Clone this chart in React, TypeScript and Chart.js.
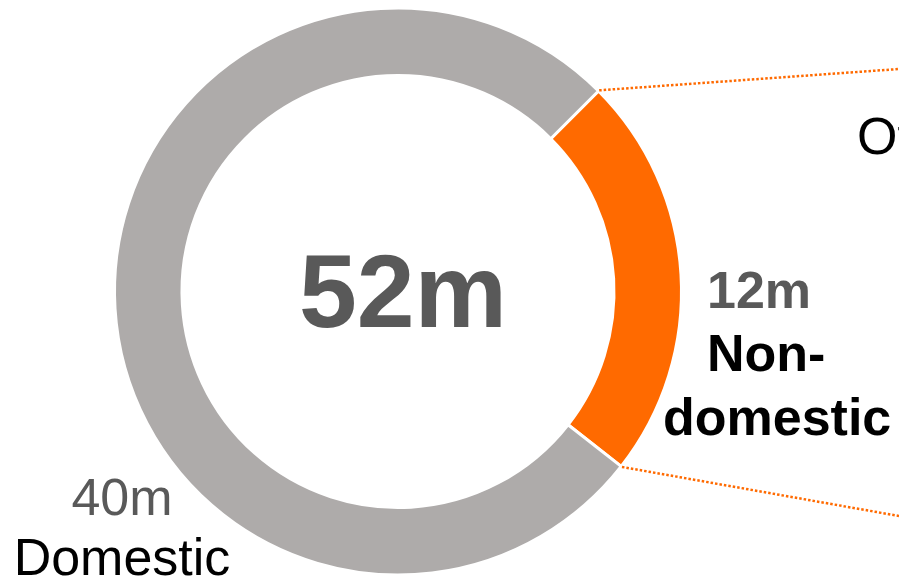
import React, { useEffect, useRef } from "react";
import { Chart, registerables } from "chart.js";

Chart.register(...registerables);

const categories = ["Non-domestic", "Domestic"];
const values = [12, 40];
const colors = ["#FF6A00", "#AEABAA"];
const unit = "m";
const nonDomesticLines = ["Non-", "domestic"];
const domesticLines = ["Domestic"];
const calloutTitle = "Other";

const FONT = "'Liberation Sans', Arial, Helvetica, sans-serif";

const labelsPlugin = {
  id: "labelsPlugin",
  afterDraw(chart: any) {
    const ctx = chart.ctx as CanvasRenderingContext2D;
    const meta = chart.getDatasetMeta(0);
    const arc = meta.data[0] as any;
    const { x, y, startAngle, endAngle, outerRadius } = arc.getProps(
      ["x", "y", "startAngle", "endAngle", "outerRadius"],
      true
    );
    const W = chart.width;
    ctx.save();

    // dotted leader lines from the orange segment to the callout on the right
    ctx.strokeStyle = colors[0];
    ctx.lineWidth = 2.5;
    ctx.setLineDash([2.5, 2]);
    const r = outerRadius + 1;
    const p1 = { x: x + r * Math.cos(startAngle), y: y + r * Math.sin(startAngle) };
    const p2 = { x: x + r * Math.cos(endAngle), y: y + r * Math.sin(endAngle) };
    ctx.beginPath();
    ctx.moveTo(p1.x, p1.y);
    ctx.lineTo(W, 69);
    ctx.stroke();
    ctx.beginPath();
    ctx.moveTo(p2.x, p2.y);
    ctx.lineTo(W, 516);
    ctx.stroke();
    ctx.setLineDash([]);

    // centre total
    const total = values.reduce((a, b) => a + b, 0);
    ctx.fillStyle = "#595959";
    ctx.textBaseline = "alphabetic";
    ctx.textAlign = "center";
    ctx.font = `bold 104px ${FONT}`;
    ctx.fillText(`${total}${unit}`, 403, 327);

    // non-domestic label
    ctx.textAlign = "left";
    ctx.font = `bold 52px ${FONT}`;
    ctx.fillStyle = "#595959";
    ctx.fillText(`${values[0]}${unit}`, 707, 308);
    ctx.fillStyle = "#000000";
    ctx.fillText(nonDomesticLines[0], 707, 371);
    ctx.fillText(nonDomesticLines[1], 663, 435);

    // domestic label
    ctx.textAlign = "center";
    ctx.font = `52px ${FONT}`;
    ctx.fillStyle = "#595959";
    ctx.fillText(`${values[1]}${unit}`, 122, 515);
    ctx.fillStyle = "#000000";
    ctx.fillText(domesticLines[0], 122, 575);

    // callout title (cut off at the right edge)
    ctx.textAlign = "left";
    ctx.fillText(calloutTitle, 857, 154);

    ctx.restore();
  },
};

export default function App() {
  const ref = useRef<HTMLCanvasElement>(null);
  useEffect(() => {
    if (!ref.current) return;
    const chart = new Chart(ref.current, {
      type: "doughnut",
      data: {
        labels: categories,
        datasets: [
          {
            data: values,
            backgroundColor: colors,
            borderColor: "#FFFFFF",
            borderWidth: 3,
            hoverOffset: 0,
          },
        ],
      },
      options: {
        responsive: false,
        animation: false,
        rotation: 45,
        cutout: "76.2%",
        layout: { padding: { left: 113, right: 216, top: 6, bottom: 6 } },
        plugins: {
          legend: { display: false },
          tooltip: { enabled: false },
        },
      },
      plugins: [labelsPlugin],
    });
    return () => chart.destroy();
  }, []);
  return (
    <div style={{ position: "fixed", left: 0, top: 0, width: 899, height: 583, background: "#fff" }}>
      <canvas ref={ref} width={899} height={583} style={{ width: 899, height: 583 }} />
    </div>
  );
}
